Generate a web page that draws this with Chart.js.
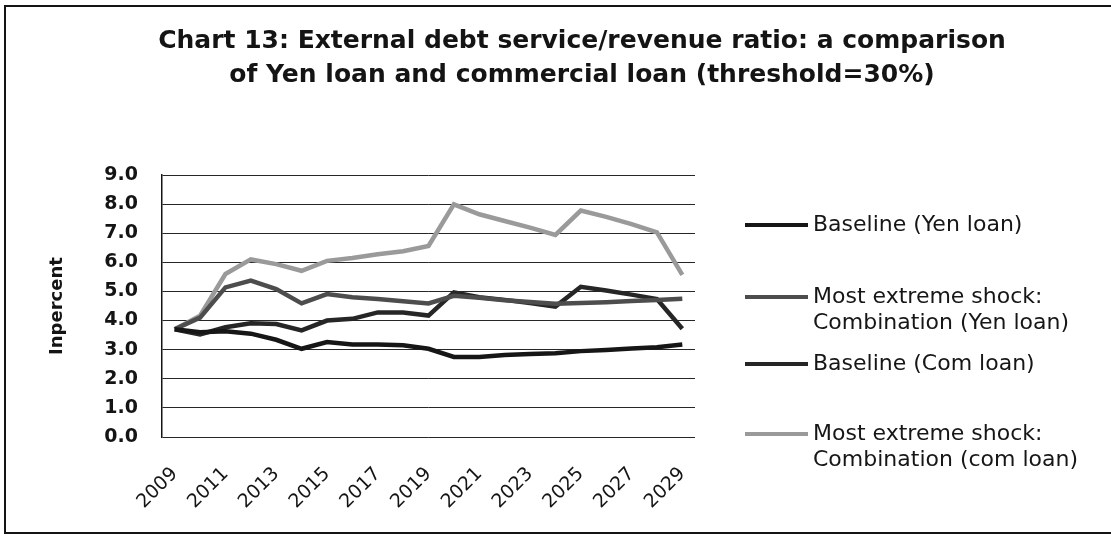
<!DOCTYPE html>
<html>
<head>
<meta charset="utf-8">
<title>Chart 13</title>
<script src="https://cdn.jsdelivr.net/npm/chart.js@4.4.1/dist/chart.umd.min.js"></script>
<style>
  html, body { margin: 0; padding: 0; background: #fff; overflow: hidden; }
  #wrap { position: relative; width: 1111px; height: 537px; overflow: hidden; }
  #c { position: absolute; left: 0; top: 0; }
  #frame { position: absolute; left: 4px; top: 5px; width: 1130px; height: 525px;
           border: 2px solid #141414; border-right: none; pointer-events: none; }
</style>
</head>
<body>
<div id="wrap">
  <canvas id="c" width="1111" height="537"></canvas>
  <div id="frame"></div>
</div>
<script>
// Years on the horizontal axis
const years = ['2009','2010','2011','2012','2013','2014','2015','2016','2017','2018','2019',
               '2020','2021','2022','2023','2024','2025','2026','2027','2028','2029'];

// External debt service / revenue ratio, in percent
const baselineYen = [3.70, 3.60, 3.63, 3.55, 3.34, 3.03, 3.26, 3.18, 3.18, 3.15, 3.03,
                     2.75, 2.75, 2.82, 2.85, 2.88, 2.95, 2.99, 3.04, 3.08, 3.18];
const shockYen    = [3.70, 4.10, 5.14, 5.37, 5.08, 4.59, 4.91, 4.80, 4.74, 4.66, 4.59,
                     4.85, 4.78, 4.70, 4.64, 4.58, 4.60, 4.63, 4.67, 4.71, 4.75];
const baselineCom = [3.70, 3.52, 3.77, 3.91, 3.88, 3.66, 4.00, 4.06, 4.28, 4.28, 4.17,
                     4.97, 4.80, 4.71, 4.60, 4.48, 5.16, 5.03, 4.89, 4.74, 3.72];
const shockCom    = [3.70, 4.17, 5.60, 6.10, 5.94, 5.71, 6.05, 6.15, 6.28, 6.38, 6.56,
                     7.99, 7.65, 7.42, 7.19, 6.94, 7.78, 7.56, 7.31, 7.03, 5.57];

// Series names, one entry per legend line
const seriesNames = [
  ['Baseline (Yen loan)'],
  ['Most extreme shock:', 'Combination (Yen loan)'],
  ['Baseline (Com loan)'],
  ['Most extreme shock:', 'Combination (com loan)']
];

// Y axis ticks
const yTicks = [0, 1, 2, 3, 4, 5, 6, 7, 8, 9];

const titleLines = [
  'Chart 13: External debt service/revenue ratio: a comparison',
  'of Yen loan and commercial loan (threshold=30%)'
];
const yTitle = 'Inpercent';

const seriesColors = ['#161616', '#4d4d4d', '#262626', '#9a9a9a'];
const seriesData = [baselineYen, shockYen, baselineCom, shockCom];

// Two-line heading above the plot
const heading = {
  id: 'heading',
  afterDraw(chart) {
    const ctx = chart.ctx;
    ctx.save();
    ctx.font = 'bold 25px "DejaVu Sans"';
    ctx.fillStyle = '#141414';
    ctx.textAlign = 'center';
    ctx.textBaseline = 'alphabetic';
    titleLines.forEach((t, i) => ctx.fillText(t, 582, 48 + i * 34));
    ctx.restore();
  }
};

// Legend to the right of the plot, drawn from the dataset list
const sideLegend = {
  id: 'sideLegend',
  afterDraw(chart) {
    const ctx = chart.ctx;
    const rowTop = [225, 297, 364, 434];
    const lineGap = 26;
    const x0 = 745, x1 = 808, tx = 813;
    ctx.save();
    ctx.font = '22px "DejaVu Sans"';
    ctx.textBaseline = 'middle';
    ctx.textAlign = 'left';
    chart.data.datasets.forEach((ds, i) => {
      const y = rowTop[i];
      ctx.strokeStyle = ds.borderColor;
      ctx.lineWidth = 4;
      ctx.beginPath();
      ctx.moveTo(x0, y);
      ctx.lineTo(x1, y);
      ctx.stroke();
      ctx.fillStyle = '#161616';
      seriesNames[i].forEach((t, k) => ctx.fillText(t, tx, y + k * lineGap));
    });
    ctx.restore();
  }
};

new Chart(document.getElementById('c'), {
  type: 'line',
  data: {
    labels: years,
    datasets: seriesData.map((d, i) => ({
      label: seriesNames[i].join(' '),
      data: d,
      borderColor: seriesColors[i],
      backgroundColor: seriesColors[i],
      borderWidth: 4.5,
      pointRadius: 0,
      tension: 0,
      fill: false
    }))
  },
  options: {
    responsive: false,
    animation: false,
    layout: { padding: { left: 47, right: 416, top: 175, bottom: 0 } },
    plugins: {
      legend: { display: false },
      tooltip: { enabled: false },
      title: { display: false }
    },
    scales: {
      x: {
        offset: true,
        grid: { display: false, drawTicks: false },
        border: { display: false },
        ticks: {
          autoSkip: false,
          minRotation: 45,
          maxRotation: 45,
          padding: 26,
          color: '#141414',
          font: { family: 'DejaVu Sans', size: 19 },
          callback: (v, i) => (i % 2 === 0 ? years[i] : '')
        },
        afterFit: s => { s.height = 100; }
      },
      y: {
        min: 0,
        max: 9,
        afterBuildTicks: s => { s.ticks = yTicks.map(v => ({ value: v })); },
        grid: { color: '#262626', lineWidth: 1, drawTicks: false },
        border: { display: true, color: '#141414', width: 1.5 },
        ticks: {
          padding: 24,
          color: '#141414',
          font: { family: 'DejaVu Sans', size: 19, weight: 'bold' },
          callback: v => Number(v).toFixed(1)
        },
        title: {
          display: true,
          text: yTitle,
          color: '#141414',
          padding: 0,
          font: { family: 'DejaVu Sans', size: 18, weight: 'bold' }
        },
        afterFit: s => { s.width = 115; }
      }
    }
  },
  plugins: [heading, sideLegend]
});
</script>
</body>
</html>
